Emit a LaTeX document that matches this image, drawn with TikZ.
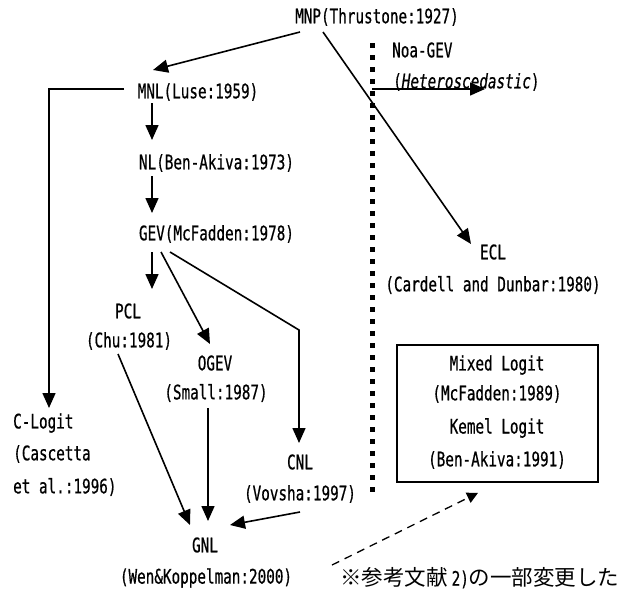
\documentclass[tikz,border=0pt]{standalone}
\usepackage{fontspec}
\newfontfamily\mono[FakeStretch=0.715,FakeBold=0.6]{DejaVu Sans Mono}
\newfontfamily\jp{Noto Sans CJK JP}
\usetikzlibrary{arrows.meta,calc}
\begin{document}
\begin{tikzpicture}[x=1pt,y=-1pt,
  lbl/.style={font=\mono\fontsize{20}{22}\selectfont,inner sep=0pt},
  link/.style={line width=1.6pt,-{Triangle[length=15pt,width=13pt]}},
  divider/.style={line width=5pt,dash pattern=on 5pt off 7pt},
  refbox/.style={draw,line width=1.8pt,minimum width=201pt,minimum height=137pt,inner sep=0pt},
  hint/.style={line width=1.3pt,dash pattern=on 8pt off 6pt,-{Triangle[length=11pt,width=11pt]}}]
\useasboundingbox (0,0) rectangle (630,595);

% model names and references
\node[lbl] (mnp) at (377,17) {MNP(Thrustone:1927)};
\node[lbl] (mnl) at (198,92) {MNL(Luse:1959)};
\node[lbl] (nl) at (216.5,163) {NL(Ben-Akiva:1973)};
\node[lbl] (gev) at (216.5,234) {GEV(McFadden:1978)};
\node[lbl] (pcl) at (128,311) {PCL};
\node[lbl] (pclr) at (129,341) {(Chu:1981)};
\node[lbl] (ogev) at (215,363) {OGEV};
\node[lbl] (ogevr) at (216,393) {(Small:1987)};
\node[lbl] (cnl) at (300,462) {CNL};
\node[lbl] (cnlr) at (300,494) {(Vovsha:1997)};
\node[lbl] (gnl) at (205,545) {GNL};
\node[lbl] (gnlr) at (206,578) {(Wen\&Koppelman:2000)};
\node[lbl,anchor=west] (clogit) at (13,423) {C-Logit};
\node[lbl,anchor=west] (clogitr) at (13,454) {(Cascetta};
\node[lbl,anchor=west] (clogitq) at (13,487) {et al.:1996)};
\node[lbl,anchor=west] (noagev) at (392,50) {Noa-GEV};
\node[lbl,anchor=west] (hetero) at (393,82) {(\itshape Heteroscedastic\/\upshape)};
\node[lbl] (ecl) at (493,252) {ECL};
\node[lbl] (eclr) at (493,285) {(Cardell and Dunbar:1980)};

% mixed / kernel logit box
\node[refbox] (mixed) at (497.5,413.5) {};
\node[lbl] (mixa) at (497,365) {Mixed Logit};
\node[lbl] (mixb) at (497,394) {(McFadden:1989)};
\node[lbl] (mixc) at (497,428) {Kemel Logit};
\node[lbl] (mixd) at (497,460) {(Ben-Akiva:1991)};

\node[anchor=west,inner sep=0pt] (note) at (340,578)
  {{\jp\fontsize{21.5}{24}\selectfont ※参考文献}\hspace{4pt}{\mono\fontsize{20}{22}\selectfont 2)}{\jp\fontsize{21.5}{24}\selectfont の一部変更した}};

% GEV / non-GEV divider
\coordinate (dtop) at (372,43);
\coordinate (dbot) at (372,492);
\draw[divider] (dtop) -- (dbot);

% derivation links
\draw[link] ($(mnp)+(-77,15)$) -- ($(mnl)+(-45,-22)$);
\draw[link] ($(mnp)+(-54,15)$) -- ($(ecl)+(-22,-8)$);
\draw[link] ($(mnl)+(-46,11)$) -- ($(nl)+(-64.5,-23)$);
\draw[link] ($(nl)+(-64.5,13)$) -- ($(gev)+(-64.5,-21)$);
\draw[link] ($(gev)+(-64.5,18)$) -- ($(pcl)+(24,-22)$);
\draw[link] ($(gev)+(-55.5,18)$) -- ($(ogev)+(-5,-19)$);
\draw[link] ($(gev)+(-46.5,18)$) -- ($(cnl)+(-1,-132)$) -- ($(cnl)+(-1,-19)$);
\draw[link] ($(mnl)+(-74,-3)$) -| ($(clogit.west)+(36,-15)$);
\draw[link] ($(pclr)+(-11,13)$) -- ($(gnl)+(-15,-20)$);
\draw[link] ($(ogevr)+(-8,15)$) -- ($(gnl)+(3,-24)$);
\draw[link] ($(cnlr)+(0,18)$) -- ($(gnl)+(25,-20)$);
\draw[link] ($(hetero.west)+(-21,7)$) -- ($(hetero.west)+(92,7)$);
\draw[hint] ($(note.west)+(-8,-13)$) -- ($(mixed.south)+(-19.5,10)$);
\end{tikzpicture}
\end{document}
